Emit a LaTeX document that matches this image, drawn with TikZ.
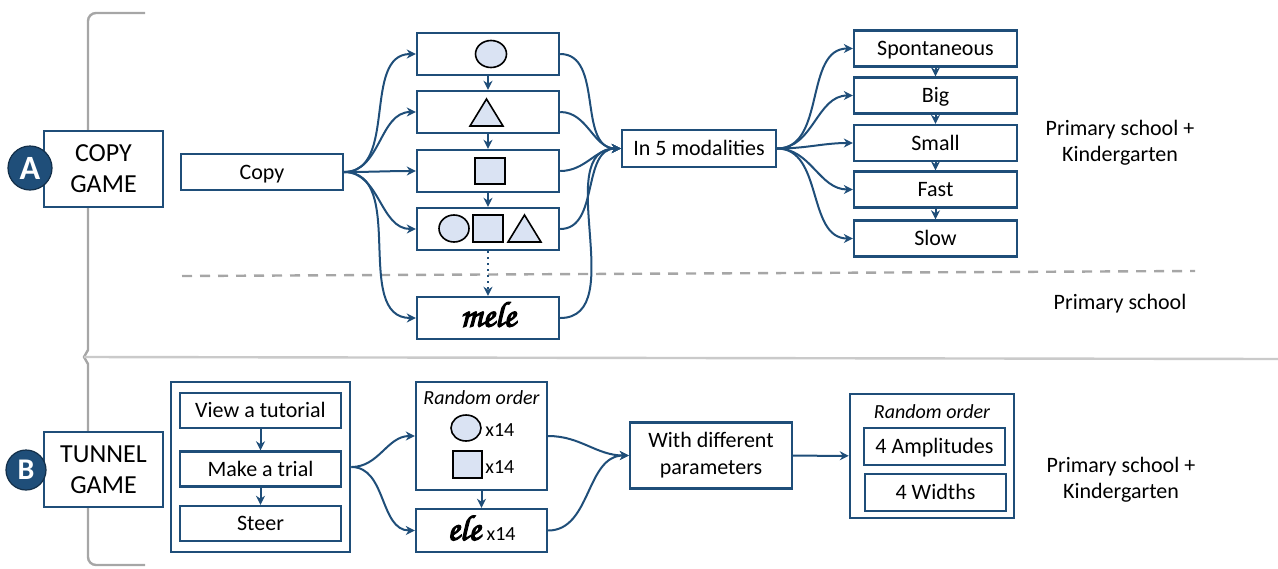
\documentclass[tikz,border=0pt]{standalone}
\usepackage[T1]{fontenc}
\usepackage{fontspec}
\setmainfont{Carlito}
\usepackage{tikz}
\usetikzlibrary{fit}
\usetikzlibrary{arrows.meta}
\usepackage{xcolor}
\definecolor{ColA}{RGB}{31,78,121}
\definecolor{ColB}{RGB}{218,227,243}
\definecolor{ColC}{RGB}{166,166,166}
\newcommand{\Cursive}{\fontencoding{T1}\fontfamily{pzc}\fontseries{mb}\fontshape{it}\selectfont}
\newcommand{\HeavyWord}[1]{\special{pdf:literal direct 2 Tr 0.6 w}#1\special{pdf:literal direct 0 Tr}}
\tikzstyle{BoxGame}=[draw=ColA,line width=1.2pt,fill=white,minimum width=59.5pt,minimum height=38pt,
align=center,inner sep=1pt,font=\fontsize{13}{15.5}\selectfont]
\tikzstyle{BoxStep}=[draw=ColA,line width=1.2pt,fill=white,minimum height=18pt,inner sep=1pt,
text height=8.5pt,text depth=1.5pt,font=\fontsize{11}{13}\selectfont]
\tikzstyle{BoxFrame}=[draw=ColA,line width=1.2pt,fill=white,inner sep=0pt]
\tikzstyle{Badge}=[circle,draw=ColA!60!black,fill=ColA,text=white,inner sep=0pt,line width=0.6pt,
font=\bfseries]
\tikzstyle{EdgeFlow}=[ColA,line width=1pt,-{Stealth[length=4.5pt,width=4.5pt]}]
\tikzstyle{Pict}=[draw=black,fill=ColB,line width=0.8pt]
\tikzstyle{SideText}=[align=center,font=\fontsize{11}{13}\selectfont]
\tikzstyle{RandText}=[inner sep=0pt,font=\fontsize{10}{12}\selectfont\itshape]
\tikzstyle{CountText}=[inner sep=0pt,anchor=west,font=\fontsize{10}{12}\selectfont]
\tikzstyle{GrayLine}=[ColC,line width=1.2pt]

\begin{document}
\begin{tikzpicture}[x=0.5pt,y=-0.5pt]
        \useasboundingbox (0,0) rectangle (1278,568);
        \draw[GrayLine](145,13)--(96,13)to[out=180,in=90](88,21)--(88,350)--(84,357)--(88,364)
            --(88,557)to[out=-90,in=180](96,565)--(145,565);
        \draw[ColC!60,line width=1.2pt](84,357)--(1278,359);
        \draw[GrayLine,dash pattern=on 5pt off 4pt](182,276)--(1195,271);
        \node[BoxGame](gameA)at(103.5,169){COPY\\GAME};
        \node[Badge,minimum size=22pt,font=\fontsize{17}{17}\selectfont\bfseries](badgeA)at(30,168){A};
        \node[BoxStep,minimum width=81pt](copy)at(262,172){Copy};
        \node[BoxStep,minimum width=71pt,minimum height=21pt](circ)at(488,54){};
        \node[BoxStep,minimum width=71pt,minimum height=21pt](tri)at(488,112){};
        \node[BoxStep,minimum width=71pt,minimum height=21pt](sq)at(488,171){};
        \node[BoxStep,minimum width=71pt,minimum height=21pt](mix)at(488,229){};
        \node[BoxStep,minimum width=71pt,minimum height=21pt,text height=10pt,font=\Cursive\fontsize{18}{18}\selectfont](mele)at(488,318){\HeavyWord{mele}\hspace{6pt}};
        \draw[Pict](491,54)ellipse[x radius=15.5,y radius=13.5];
        \draw[Pict](470,126)--(486.5,99)--(503,126)--cycle;
        \draw[Pict](475,158)rectangle(505,184);
        \draw[Pict](454,228.5)ellipse[x radius=15,y radius=13.5];
        \draw[Pict](473,215)rectangle(503,242);
        \draw[Pict](508,242)--(524.5,215)--(541,242)--cycle;
        \node[BoxStep,minimum width=77pt,minimum height=18.5pt](modal)at(699,148.5){In 5 modalities};
        \node[BoxStep,minimum width=81.5pt](spont)at(935.5,48.5){Spontaneous};
        \node[BoxStep,minimum width=81.5pt](big)at(935.5,95.5){Big};
        \node[BoxStep,minimum width=81.5pt](small)at(935.5,143){Small};
        \node[BoxStep,minimum width=81.5pt](fast)at(935.5,189.5){Fast};
        \node[BoxStep,minimum width=81.5pt](slow)at(935.5,238.5){Slow};
        \draw[EdgeFlow](copy.east)to[out=0,in=180](circ.west);
        \draw[EdgeFlow](copy.east)to[out=0,in=180](tri.west);
        \draw[EdgeFlow](copy.east)to[out=0,in=180](sq.west);
        \draw[EdgeFlow](copy.east)to[out=0,in=180](mix.west);
        \draw[EdgeFlow](copy.east)to[out=0,in=180](mele.west);
        \draw[EdgeFlow](circ)--(tri);
        \draw[EdgeFlow](tri)--(sq);
        \draw[EdgeFlow](sq)--(mix);
        \draw[EdgeFlow,dotted,line width=1.2pt](mix)--(mele);
        \draw[EdgeFlow](circ.east)to[out=0,in=180](modal.west);
        \draw[EdgeFlow](tri.east)to[out=0,in=180](modal.west);
        \draw[EdgeFlow](sq.east)to[out=0,in=180](modal.west);
        \draw[EdgeFlow](mix.east)to[out=0,in=180](modal.west);
        \draw[EdgeFlow](mele.east)to[out=0,in=180](modal.west);
        \draw[EdgeFlow](modal.east)to[out=0,in=180](spont.west);
        \draw[EdgeFlow](modal.east)to[out=0,in=180](big.west);
        \draw[EdgeFlow](modal.east)to[out=0,in=180](small.west);
        \draw[EdgeFlow](modal.east)to[out=0,in=180](fast.west);
        \draw[EdgeFlow](modal.east)to[out=0,in=180](slow.west);
        \draw[EdgeFlow](spont)--(big);
        \draw[EdgeFlow](big)--(small);
        \draw[EdgeFlow](small)--(fast);
        \draw[EdgeFlow](fast)--(slow);
        \node[SideText](levelA)at(1120,143){Primary school +\\Kindergarten};
        \node[SideText](levelMid)at(1120,304){Primary school};
        \node[BoxGame,minimum height=37.5pt](gameB)at(103.5,469.5){TUNNEL\\GAME};
        \node[Badge,minimum size=20pt,font=\fontsize{15}{15}\selectfont\bfseries](badgeB)at(26,470){B};
        \node[BoxStep,minimum width=80.5pt,minimum height=17.5pt](tut)at(260.5,410.5){View a tutorial};
        \node[BoxStep,minimum width=80.5pt,minimum height=17.5pt](trial)at(260.5,469){Make a trial};
        \node[BoxStep,minimum width=80.5pt,minimum height=17.5pt](steer)at(260.5,523.5){Steer};
        \node[draw=ColA,line width=1.2pt,fit=(tut)(steer),inner xsep=4pt,inner ysep=5pt](steps){};
        \node[BoxFrame,minimum width=65.5pt,minimum height=54pt](randA)at(481.5,436){};
        \node[RandText](randAtitle)at(481.5,398){Random order};
        \draw[Pict](466,428)ellipse[x radius=15,y radius=13];
        \node[CountText](countA)at(485,430){x14};
        \draw[Pict](453,451)rectangle(482,478);
        \node[CountText](countB)at(485,467){x14};
        \node[BoxStep,minimum width=65.5pt,minimum height=21.5pt,text height=11pt](ele)at(481.5,530.5){{\Cursive\fontsize{18}{18}\selectfont\HeavyWord{ele}}\hspace{3pt}{\fontsize{10}{12}\selectfont x14}};
        \node[BoxGame,minimum width=81pt,minimum height=33pt,font=\fontsize{11}{13.5}\selectfont](params)at(711,455.5){With different\\parameters};
        \node[BoxFrame,minimum width=82pt,minimum height=62pt](randB)at(932,456){};
        \node[RandText](randBtitle)at(932,412){Random order};
        \node[BoxStep,minimum width=70.5pt,minimum height=18.5pt](amp)at(934.5,446.5){4 Amplitudes};
        \node[BoxStep,minimum width=70.5pt,minimum height=18.5pt](wid)at(935.5,492.5){4 Widths};
        \draw[EdgeFlow](tut)--(trial);
        \draw[EdgeFlow](trial)--(steer);
        \draw[EdgeFlow](steps.east)to[out=0,in=180](randA.west);
        \draw[EdgeFlow](steps.east)to[out=0,in=180](ele.west);
        \draw[EdgeFlow](randA)--(ele);
        \draw[EdgeFlow](randA.east)to[out=0,in=180](params.west);
        \draw[EdgeFlow](ele.east)to[out=0,in=180](params.west);
        \draw[EdgeFlow](params)--(randB);
        \node[SideText](levelB)at(1121,480){Primary school +\\Kindergarten};
    \end{tikzpicture}
\end{document}
